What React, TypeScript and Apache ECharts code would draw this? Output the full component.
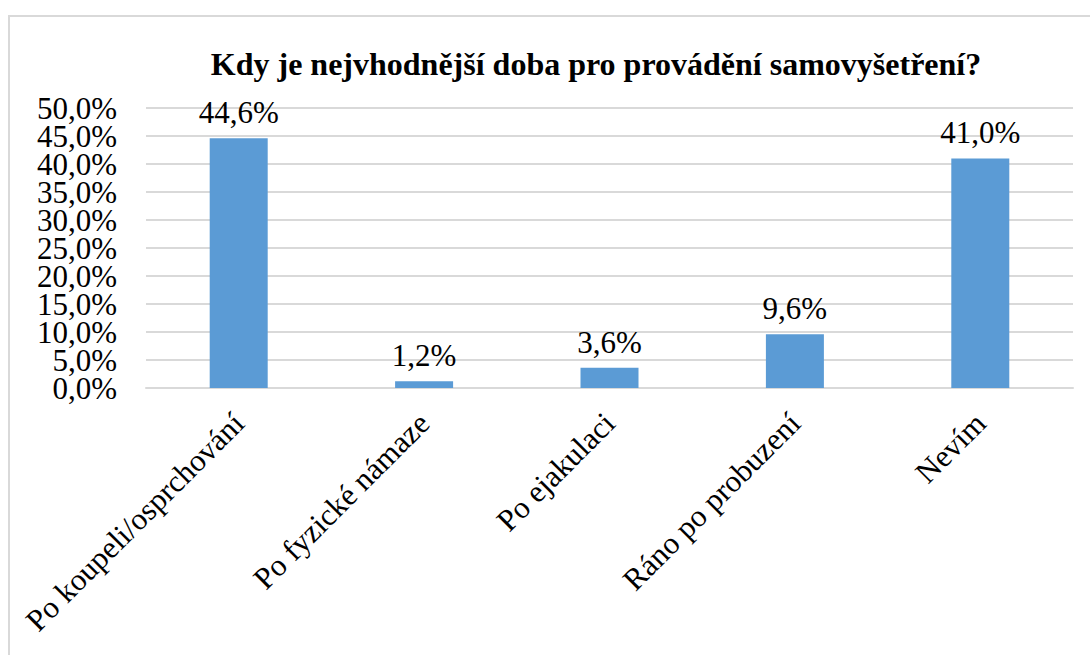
import React, { useEffect, useRef } from "react";
import * as echarts from "echarts";

const titleText = "Kdy je nejvhodnější doba pro provádění samovyšetření?";
const categories = [
  "Po koupeli/osprchování",
  "Po fyzické námaze",
  "Po ejakulaci",
  "Ráno po probuzení",
  "Nevím",
];
const values = [44.6, 1.2, 3.6, 9.6, 41.0];
const yMin = 0;
const yMax = 50;
const yStep = 5;

const fmt = (v: number) => v.toFixed(1).replace(".", ",") + "%";
const FONT = "Liberation Serif, Times New Roman, serif";

// Two overlaid y axes share one scale: one labels the even ticks, one the odd,
// so that ECharts does not drop the tightly packed tick labels.
const isEven = (v: number) => Math.round(v / yStep) % 2 === 0;

export default function App() {
  const ref = useRef<HTMLDivElement>(null);
  useEffect(() => {
    if (!ref.current) return;
    const chart = echarts.init(ref.current, undefined, { renderer: "svg" });
    const labelBase = {
      margin: 29,
      fontFamily: FONT,
      fontSize: 31,
      color: "#000000",
    };
    chart.setOption({
      animation: false,
      backgroundColor: "#ffffff",
      textStyle: { fontFamily: FONT },
      graphic: [
        {
          type: "rect",
          shape: { x: 9, y: 16, width: 1100, height: 700 },
          style: { fill: "none", stroke: "#d9d9d9", lineWidth: 2 },
          silent: true,
        },
      ],
      title: {
        text: titleText,
        left: 591,
        textAlign: "center",
        top: 43,
        textStyle: {
          fontFamily: FONT,
          fontWeight: "bold",
          fontSize: 32,
          color: "#000000",
        },
      },
      grid: { left: 146, right: 17, top: 108, bottom: 267 },
      xAxis: {
        type: "category",
        data: categories,
        axisLine: { show: true, lineStyle: { color: "#d9d9d9", width: 2 } },
        axisTick: { show: false },
        axisLabel: {
          interval: 0,
          rotate: 45,
          margin: 30,
          fontFamily: FONT,
          fontSize: 31,
          color: "#000000",
        },
      },
      yAxis: [
        {
          type: "value",
          position: "left",
          min: yMin,
          max: yMax,
          interval: yStep,
          axisLine: { show: false },
          axisTick: { show: false },
          splitLine: { lineStyle: { color: "#d9d9d9", width: 2 } },
          axisLabel: {
            ...labelBase,
            showMinLabel: true,
            showMaxLabel: true,
            formatter: (v: number) => (isEven(v) ? fmt(v) : ""),
          },
        },
        {
          type: "value",
          position: "left",
          offset: 0,
          min: yMin,
          max: yMax,
          interval: yStep,
          axisLine: { show: false },
          axisTick: { show: false },
          splitLine: { show: false },
          axisLabel: {
            ...labelBase,
            showMinLabel: true,
            showMaxLabel: true,
            formatter: (v: number) => (isEven(v) ? "" : fmt(v)),
          },
        },
      ],
      series: [
        {
          type: "bar",
          data: values,
          barWidth: 58,
          itemStyle: { color: "#5b9bd5" },
          label: {
            show: true,
            position: "top",
            distance: 10,
            fontFamily: FONT,
            fontSize: 31,
            color: "#000000",
            formatter: (p: any) => fmt(p.value),
          },
        },
      ],
    });
    return () => chart.dispose();
  }, []);
  return (
    <div
      ref={ref}
      style={{ position: "fixed", left: 0, top: 0, width: 1090, height: 655 }}
    />
  );
}
